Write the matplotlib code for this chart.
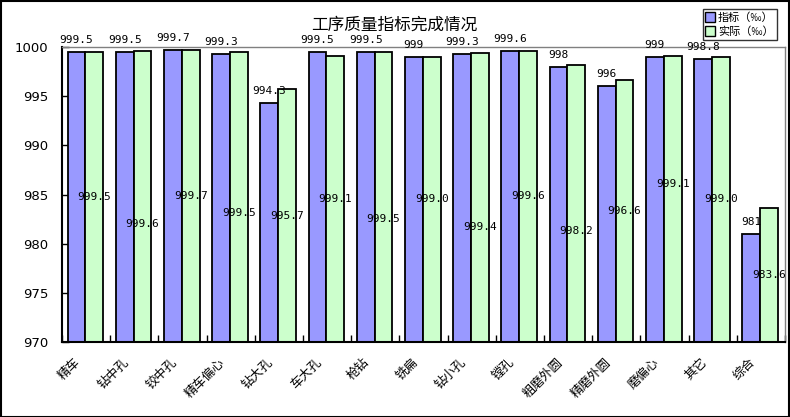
import matplotlib
matplotlib.use("Agg")
import matplotlib.pyplot as plt
import matplotlib.transforms as mtransforms
from matplotlib.lines import Line2D
from matplotlib.patches import Rectangle
import numpy as np

plt.rcParams['font.family'] = ['DejaVu Sans', 'Noto Sans CJK SC']

categories = ["精车", "钻中孔", "铰中孔", "精车偏心", "钻大孔", "车大孔", "枪钻", "铣扁",
              "钻小孔", "镗孔", "粗磨外圆", "精磨外圆", "磨偏心", "其它", "综合"]
target = [999.5, 999.5, 999.7, 999.3, 994.3, 999.5, 999.5, 999.0, 999.3, 999.6,
          998.0, 996.0, 999.0, 998.8, 981.0]
actual = [999.5, 999.6, 999.7, 999.5, 995.7, 999.1, 999.5, 999.0, 999.4, 999.6,
          998.2, 996.6, 999.1, 999.0, 983.6]
target_labels = ["999.5", "999.5", "999.7", "999.3", "994.3", "999.5", "999.5", "999",
                 "999.3", "999.6", "998", "996", "999", "998.8", "981"]
actual_labels = ["999.5", "999.6", "999.7", "999.5", "995.7", "999.1", "999.5", "999.0",
                 "999.4", "999.6", "998.2", "996.6", "999.1", "999.0", "983.6"]
yticks = [970, 975, 980, 985, 990, 995, 1000]
series_names = ["指标（‰）", "实际（‰）"]

# layout: vertical nudges (points) for the inner labels that were moved in the original
inner_nudge = [0, -19.5, 0, -11.5, 0, 0, -15.8, 0, -21.6, 0, -20, 0, 10.8, 0, 0]

c_blue = "#9999FF"
c_green = "#CCFFCC"
base = 970

fig = plt.figure(figsize=(7.9, 4.17), dpi=100)
ax = fig.add_axes([62/790, 1-342/417, (785-62)/790, (342-47)/417])

x = np.arange(len(categories))
w = 0.37
xb = x - 0.2
xg = x + 0.17
hb = [v - base for v in target]
hg = [v - base for v in actual]
ax.bar(xb, hb, width=w, bottom=base, color=c_blue, edgecolor="black", linewidth=1.3, zorder=2)
ax.bar(xg, hg, width=w, bottom=base, color=c_green, edgecolor="black", linewidth=1.3, zorder=2)

ax.set_xlim(-0.5, len(categories) - 0.5)
ax.set_ylim(970, 1000)

mono = "DejaVu Sans Mono"
for i in range(len(categories)):
    ax.annotate(target_labels[i], (xb[i], target[i]), xytext=(0, 8.6), textcoords="offset points",
                ha="center", va="center", fontsize=8, family=mono, annotation_clip=False, zorder=5)
    ax.annotate(actual_labels[i], (xg[i], (base + actual[i]) / 2), xytext=(0, inner_nudge[i]),
                textcoords="offset points", ha="center", va="center", fontsize=8, family=mono,
                annotation_clip=False, zorder=5)

# axes styling
for s in ["left", "bottom"]:
    ax.spines[s].set_color("black")
    ax.spines[s].set_linewidth(1.5)
for s in ["top", "right"]:
    ax.spines[s].set_color("#808080")
    ax.spines[s].set_linewidth(1.0)

ax.set_yticks(yticks)
ax.set_yticklabels([str(t) for t in yticks])
ax.tick_params(axis="y", direction="in", length=5, width=1, labelsize=9.5, pad=10)

ax.set_xticks(x)
ax.set_xticklabels(categories, rotation=45, ha="right", va="center", rotation_mode="anchor",
                   family=['Noto Sans CJK SC'])
ax.set_xticks(np.arange(-0.5, len(categories), 1.0), minor=True)
ax.tick_params(axis="x", which="major", length=0, labelsize=9, pad=13)
ax.tick_params(axis="x", which="minor", direction="in", length=5, width=1)
offset = mtransforms.ScaledTranslation(-8/100, 0, fig.dpi_scale_trans)
for lab in ax.get_xticklabels():
    lab.set_transform(lab.get_transform() + offset)

# title
fig.text(394/790, 1-25/417, "工序质量指标完成情况", ha="center", va="center", fontsize=12,
         family=['Noto Sans CJK SC'])

# legend
handles = [Line2D([], [], marker="s", linestyle="none", markersize=6.5,
                  markerfacecolor=c, markeredgecolor="black", markeredgewidth=1)
           for c in (c_blue, c_green)]
leg = fig.legend(handles, series_names, loc="upper left",
                 bbox_to_anchor=(703/790, 1-9/417), fontsize=8, frameon=True, fancybox=False,
                 edgecolor="black", handlelength=0.7, handletextpad=0.35, borderpad=0.3,
                 labelspacing=0.3, borderaxespad=0)
leg.get_frame().set_linewidth(1.0)
for t in leg.get_texts():
    t.set_family(['Noto Sans CJK SC', 'DejaVu Sans'])

# figure border
fig.patches.append(Rectangle((0.001, 0.001), 0.998, 0.997, transform=fig.transFigure,
                             fill=False, edgecolor="black", linewidth=1.5))

fig.savefig("out.png", dpi=100)
